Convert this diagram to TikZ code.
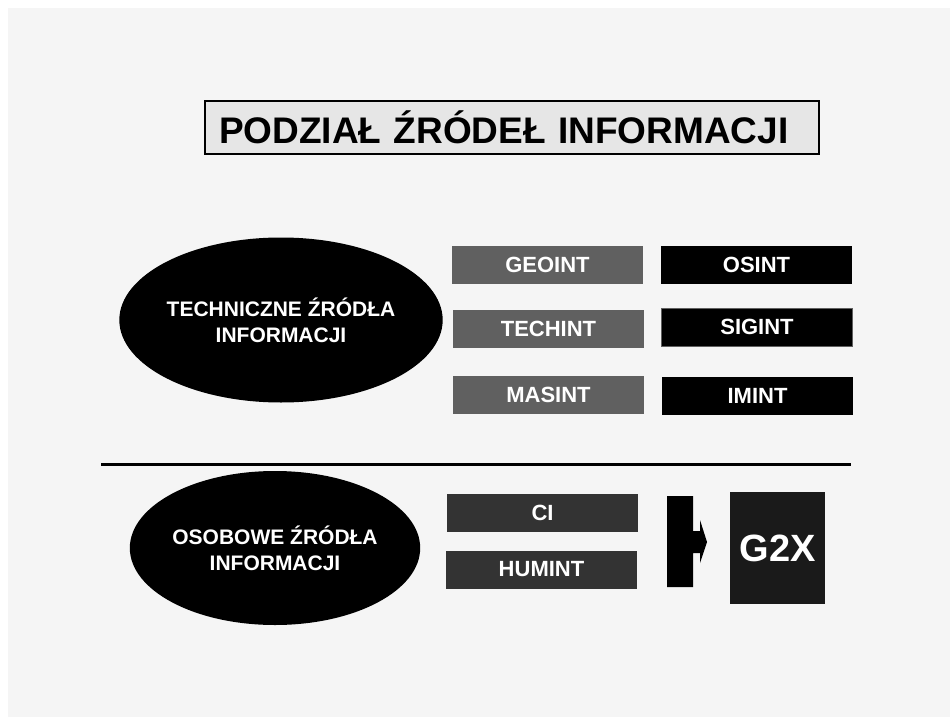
\documentclass[tikz,border=0pt]{standalone}
\usepackage{fontspec}
\setmainfont{Liberation Sans}
\usetikzlibrary{shapes.geometric}

\begin{document}
\begin{tikzpicture}[x=1pt,y=-1pt]
% ------------------------------------------------ slide colors
\definecolor{zr_bg}{RGB}{245,245,245}    %#F5F5F5
\definecolor{zr_title}{RGB}{230,230,230} %#E6E6E6
\definecolor{zr_gray}{RGB}{96,96,96}     %#606060
\definecolor{zr_dark}{RGB}{51,51,51}     %#333333
\definecolor{zr_g2x}{RGB}{26,26,26}      %#1A1A1A

\tikzset{
  zrodlo/.style={ellipse, fill=black, text=white, inner sep=0pt, align=center,
    font=\bfseries\fontsize{21}{26}\selectfont},
  int/.style={rectangle, inner sep=0pt, text=white, minimum width=191pt,
    minimum height=38pt, font=\bfseries\fontsize{22}{26}\selectfont},
}

\useasboundingbox (0,0) rectangle (950,717);
\fill[zr_bg] (8,8) rectangle (950,717);

% ---------------------------------------------  title
\node[draw, line width=2pt, fill=zr_title, anchor=west, inner xsep=14pt,
  text width=586pt, minimum height=53pt, align=left,
  font=\bfseries\fontsize{37}{40}\selectfont] (tytul) at (204,127.5)
  {PODZIAŁ ŹRÓDEŁ INFORMACJI};

% ---------------------------------------------  technical sources
\node[zrodlo, minimum width=270pt, minimum height=165pt] (techniczne) at (281,320)
  {TECHNICZNE ŹRÓDŁA\\INFORMACJI};

\node[int, fill=zr_gray] (geoint)  at (547.5,265)   {GEOINT};
\node[int, fill=zr_gray] (techint) at (548.5,328.5) {TECHINT};
\node[int, fill=zr_gray] (masint)  at (548.5,395)   {MASINT};

\node[int, fill=black] (osint)  at (756.5,264.5) {OSINT};
\node[int, fill=black, draw=zr_gray, line width=0.6pt] (sigint) at (757,327) {SIGINT};
\node[int, fill=black] (imint)  at (757.5,396) {IMINT};

% ---------------------------------------------  divider
\draw[line width=3pt] (101,464) -- (851,464);

% ---------------------------------------------  personal sources
\node[zrodlo, minimum width=276pt, minimum height=154pt] (osobowe) at (275,548)
  {OSOBOWE ŹRÓDŁA\\INFORMACJI};

\node[int, fill=zr_dark] (ci)     at (542.5,513)   {CI};
\node[int, fill=zr_dark] (humint) at (541.5,569.5) {HUMINT};

\fill[black] (667,496) -- (693,496) -- (693,531) -- (700,531) -- (700,520)
  -- (707,542) -- (700,563) -- (700,553) -- (693,553) -- (693,587)
  -- (667,587) -- cycle;

\node[rectangle, inner sep=0pt, fill=zr_g2x, text=white, minimum width=95pt,
  minimum height=112pt, font=\bfseries\fontsize{38}{42}\selectfont] (g2x)
  at (777.5,548) {G2X};

\end{tikzpicture}
\end{document}
